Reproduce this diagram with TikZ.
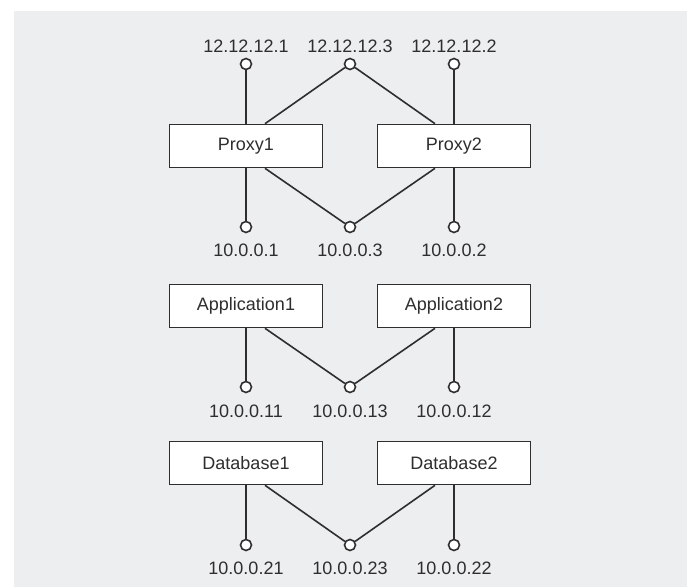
\documentclass[tikz,border=0pt]{standalone}
\usepackage{fontspec}
\setmainfont{Liberation Sans}
\usepackage{tikz}
\usetikzlibrary{calc}
\definecolor{bggray}{HTML}{EDEEF0}
\definecolor{inkgray}{HTML}{2E2E2E}
\tikzset{
	hostbox/.style={draw=inkgray, fill=white, line width=1.6pt, minimum width=153pt, minimum height=43pt, inner sep=0pt, text=inkgray},
	ipdot/.style={circle, draw=inkgray, fill=white, line width=1.6pt, minimum size=11pt, inner sep=0pt},
	iptext/.style={text=inkgray, inner sep=0pt},
	wire/.style={draw=inkgray, line width=1.6pt}
}

\begin{document}
\begin{tikzpicture}[x=1pt, y=-1pt, font=\fontsize{18}{21}\selectfont]
		%%%%% START %%%%%
		
		\useasboundingbox (0, 0) rectangle (689, 588);
		\fill[bggray] (14, 11) rectangle (687, 587);
		
		% proxies
		\node[hostbox] (proxyA) at (246, 146) {Proxy1};
		\node[hostbox] (proxyB) at (454, 146) {Proxy2};
		
		\node[ipdot] (pubA) at (246, 64) {};
		\node[ipdot] (pubV) at (350, 64) {};
		\node[ipdot] (pubB) at (454, 64) {};
		\node[iptext] (pubAtxt) at (246, 46) {12.12.12.1};
		\node[iptext] (pubVtxt) at (350, 46) {12.12.12.3};
		\node[iptext] (pubBtxt) at (454, 46) {12.12.12.2};
		
		\node[ipdot] (prvA) at (246, 227) {};
		\node[ipdot] (prvV) at (350, 227) {};
		\node[ipdot] (prvB) at (454, 227) {};
		\node[iptext] (prvAtxt) at (246, 250) {10.0.0.1};
		\node[iptext] (prvVtxt) at (350, 250) {10.0.0.3};
		\node[iptext] (prvBtxt) at (454, 250) {10.0.0.2};
		
		\draw[wire] (proxyA) -- (pubA);
		\draw[wire] (proxyB) -- (pubB);
		\draw[wire] ($(proxyA.north)+(19, 0)$) -- (pubV);
		\draw[wire] ($(proxyB.north)+(-19, 0)$) -- (pubV);
		\draw[wire] (proxyA) -- (prvA);
		\draw[wire] (proxyB) -- (prvB);
		\draw[wire] ($(proxyA.south)+(19, 0)$) -- (prvV);
		\draw[wire] ($(proxyB.south)+(-19, 0)$) -- (prvV);
		
		% applications
		\node[hostbox] (appA) at (246, 306) {Application1};
		\node[hostbox] (appB) at (454, 306) {Application2};
		
		\node[ipdot] (appdA) at (246, 387) {};
		\node[ipdot] (appdV) at (350, 387) {};
		\node[ipdot] (appdB) at (454, 387) {};
		\node[iptext] (appAtxt) at (246, 411) {10.0.0.11};
		\node[iptext] (appVtxt) at (350, 411) {10.0.0.13};
		\node[iptext] (appBtxt) at (454, 411) {10.0.0.12};
		
		\draw[wire] (appA) -- (appdA);
		\draw[wire] (appB) -- (appdB);
		\draw[wire] ($(appA.south)+(19, 0)$) -- (appdV);
		\draw[wire] ($(appB.south)+(-19, 0)$) -- (appdV);
		
		% databases
		\node[hostbox] (dbA) at (246, 463) {Database1};
		\node[hostbox] (dbB) at (454, 463) {Database2};
		
		\node[ipdot] (dbdA) at (246, 545) {};
		\node[ipdot] (dbdV) at (350, 545) {};
		\node[ipdot] (dbdB) at (454, 545) {};
		\node[iptext] (dbAtxt) at (246, 568) {10.0.0.21};
		\node[iptext] (dbVtxt) at (350, 568) {10.0.0.23};
		\node[iptext] (dbBtxt) at (454, 568) {10.0.0.22};
		
		\draw[wire] (dbA) -- (dbdA);
		\draw[wire] (dbB) -- (dbdB);
		\draw[wire] ($(dbA.south)+(19, 0)$) -- (dbdV);
		\draw[wire] ($(dbB.south)+(-19, 0)$) -- (dbdV);
		
		%%%%% END %%%%%
	\end{tikzpicture}
\end{document}
